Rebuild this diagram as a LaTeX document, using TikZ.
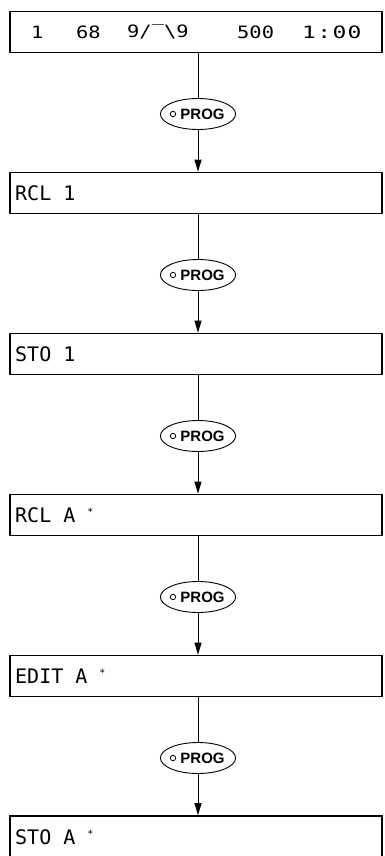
\documentclass[tikz,border=0pt]{standalone}
\usepackage{fontspec}
\newfontfamily\lcd{DejaVu Sans Mono}
\newfontfamily\lcdw[FakeStretch=1.2]{DejaVu Sans Mono}
\newfontfamily\lcdls[FakeStretch=1.35,LetterSpace=8]{DejaVu Sans Mono}
\newfontfamily\progfont{Liberation Sans}
\usetikzlibrary{shapes.geometric,arrows.meta}
\newcommand{\mystar}{\raisebox{0.6ex}{\fontsize{10}{10}\selectfont *}}
\tikzset{
  disp/.style={draw, line width=1.6pt, minimum width=372pt, minimum height=41pt, inner sep=0pt},
  txt/.style={anchor=west, inner sep=0pt, font=\lcd\fontsize{20}{20}\selectfont},
  tok/.style={anchor=west, inner sep=0pt, font=\lcdw\fontsize{17}{17}\selectfont},
  prog/.style={draw, ellipse, line width=0.9pt, minimum width=68pt, minimum height=31pt, inner sep=0pt},
  conn/.style={line width=0.9pt},
  arr/.style={line width=0.9pt, -{Triangle[length=12pt,width=7pt]}},
}
\begin{document}
\begin{tikzpicture}[x=1pt,y=-1pt]
\useasboundingbox (0,0) rectangle (385,856);
\clip (0,0) rectangle (385,856);
% display boxes
\node[disp] (b1) at (196,32) {};
\node[disp] (b2) at (196,193) {};
\node[disp] (b3) at (196,354) {};
\node[disp] (b4) at (196,515) {};
\node[disp] (b5) at (196,676) {};
\node[disp, minimum height=60pt] (b6) at (196,846) {};
% box texts
\node[tok] (t1a) at (31,32) {1};
\node[tok] (t1b) at (76,32) {68};
\node[tok] (t1c) at (127,32) {9/‾\textbackslash 9};
\node[tok] (t1d) at (237,32) {500};
\node[tok, font=\lcdls\fontsize{17}{17}\selectfont] (t1e) at (302,32) {1:00};
\node[txt] (t2) at (15,193) {RCL 1};
\node[txt] (t3) at (15,354) {STO 1};
\node[txt] (t4) at (15,515) {RCL A \mystar};
\node[txt] (t5) at (15,676) {EDIT A \mystar};
\node[txt] (t6) at (15,837) {STO A \mystar};
% PROG ellipses
\foreach \i/\y in {1/114,2/275,3/436,4/597,5/758}{
  \node[prog] (e\i) at (198,\y) {\hspace*{9pt}\progfont\bfseries\fontsize{15}{15}\selectfont PROG};
  \draw[line width=0.8pt] ([xshift=-25pt]e\i.center) circle[radius=2.7pt];
}
% connectors
\foreach \a/\e/\b in {b1/e1/b2,b2/e2/b3,b3/e3/b4,b4/e4/b5,b5/e5/b6}{
  \draw[conn] (\e |- \a.south) -- (\e.north);
  \draw[arr] (\e.south) -- (\e |- \b.north);
}
\end{tikzpicture}
\end{document}
